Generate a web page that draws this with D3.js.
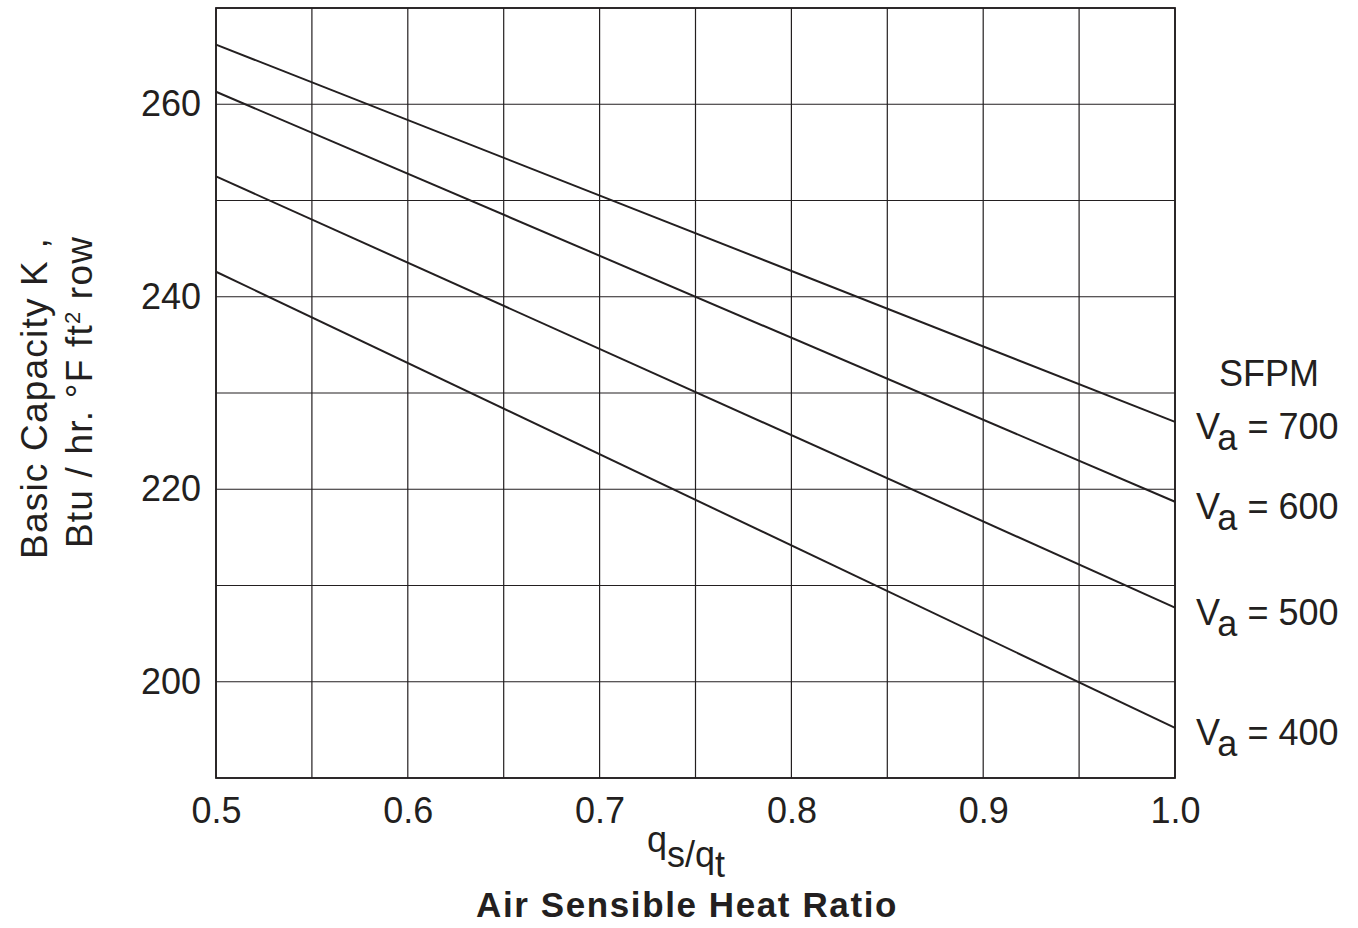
<!DOCTYPE html>
<html>
<head>
<meta charset="utf-8">
<script src="https://cdn.jsdelivr.net/npm/d3@7"></script>
<style>
  body { margin: 0; background: #fff; }
  text { font-family: "Liberation Sans", Arial, Helvetica, sans-serif; fill: #231f20; }
</style>
</head>
<body>
<svg id="chart" width="1358" height="928"></svg>
<script>
// air sensible heat ratio qs/qt
const ratioTicks = [0.5, 0.6, 0.7, 0.8, 0.9, 1.0];
const capacityTicks = [200, 220, 240, 260];
// face velocity in SFPM
const velocities = [700, 600, 500, 400];
// basic capacity at qs/qt = 0.5 and 1.0
const capacityAtHalf = [266.2, 261.3, 252.5, 242.6];
const capacityAtOne = [227.0, 218.7, 207.7, 195.2];

const margin = { left: 216, right: 183, top: 8, bottom: 150 };
const width = 1358, height = 928;

const svg = d3.select("svg#chart");

const x = d3.scaleLinear().domain([0.5, 1.0]).range([margin.left, width - margin.right]);
const y = d3.scaleLinear().domain([190, 270]).range([height - margin.bottom, margin.top]);

const ink = "#231f20";

// grid
const grid = svg.append("g");
grid.selectAll("line.v")
    .data(d3.range(0.5, 1.0001, 0.05))
    .enter().append("line")
    .attr("x1", d => x(d)).attr("x2", d => x(d))
    .attr("y1", y(190)).attr("y2", y(270))
    .style("stroke", ink)
    .style("stroke-width", 1.2);
grid.selectAll("line.h")
    .data(d3.range(190, 270.001, 10))
    .enter().append("line")
    .attr("x1", x(0.5)).attr("x2", x(1.0))
    .attr("y1", d => y(d)).attr("y2", d => y(d))
    .style("stroke", ink)
    .style("stroke-width", 1.2);

// frame
svg.append("rect")
    .attr("x", x(0.5)).attr("y", y(270))
    .attr("width", x(1.0) - x(0.5)).attr("height", y(190) - y(270))
    .style("fill", "none")
    .style("stroke", ink)
    .style("stroke-width", 1.8);

// tick labels via d3 axis, lines hidden
const xAxis = svg.append("g")
    .attr("transform", "translate(0," + y(190) + ")")
    .call(d3.axisBottom(x).tickValues(ratioTicks).tickFormat(d3.format(".1f")).tickSize(0).tickPadding(19));
xAxis.select(".domain").remove();
xAxis.selectAll("text")
    .style("font-size", "36px")
    .attr("fill", ink);

const yAxis = svg.append("g")
    .attr("transform", "translate(" + x(0.5) + ",0)")
    .call(d3.axisLeft(y).tickValues(capacityTicks).tickSize(0).tickPadding(15));
yAxis.select(".domain").remove();
yAxis.selectAll("text")
    .style("font-size", "36px")
    .attr("fill", ink);

// curves
const line = d3.line().x(d => x(d[0])).y(d => y(d[1]));
velocities.forEach(function(v, i) {
  svg.append("path")
      .attr("d", line([[0.5, capacityAtHalf[i]], [1.0, capacityAtOne[i]]]))
      .style("fill", "none")
      .style("stroke", ink)
      .style("stroke-width", 2);

  const lab = svg.append("text")
      .attr("x", x(1.0) + 21)
      .attr("y", y(capacityAtOne[i]) + 17)
      .style("font-size", "36px");
  lab.append("tspan").text("V");
  lab.append("tspan").attr("dy", 11).text("a");
  lab.append("tspan").attr("dy", -11).text(" = " + v);
});

svg.append("text")
    .attr("x", 1269).attr("y", 386)
    .attr("text-anchor", "middle")
    .style("font-size", "36px")
    .text("SFPM");

// x title
const q = svg.append("text")
    .attr("x", 686).attr("y", 852)
    .attr("text-anchor", "middle")
    .style("font-size", "36px");
q.append("tspan").text("q");
q.append("tspan").attr("dy", 15).text("s/q");
q.append("tspan").attr("dy", 10).text("t");

svg.append("text")
    .attr("x", 687).attr("y", 917)
    .attr("text-anchor", "middle")
    .style("font-size", "35px")
    .style("font-weight", "bold")
    .style("letter-spacing", "1.6px")
    .text("Air Sensible Heat Ratio");

// y title
const yt = svg.append("text")
    .attr("transform", "translate(47,398) rotate(-90)")
    .attr("text-anchor", "middle")
    .style("font-size", "37px")
    .style("letter-spacing", "1.2px");
yt.append("tspan").attr("x", 0).attr("dy", 0).text("Basic Capacity K ,");
const yt2 = yt.append("tspan").attr("x", 6).attr("dy", 45);
yt2.append("tspan").text("Btu / hr. °F ft");
yt2.append("tspan").attr("dy", -12).style("font-size", "22px").text("2");
yt2.append("tspan").attr("dy", 12).text(" row");
</script>
</body>
</html>
